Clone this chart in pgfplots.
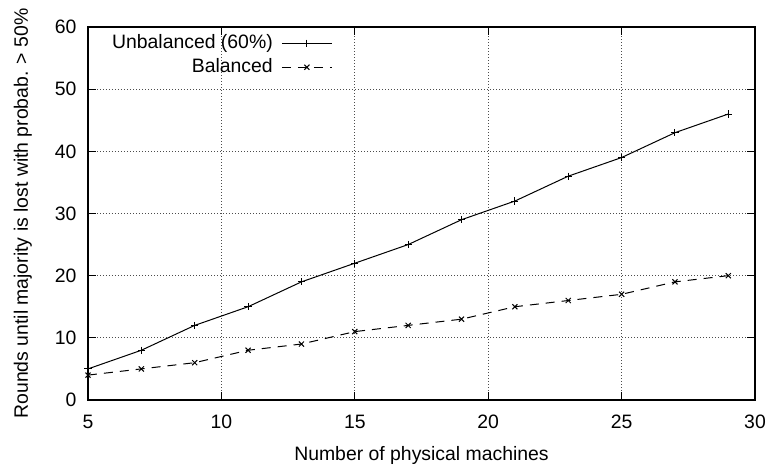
\documentclass[border=0pt]{standalone}
\usepackage{fontspec}
\setmainfont{Liberation Sans}
\usepackage{pgfplots}
\pgfplotsset{compat=1.18}
\begin{document}
\fontsize{9.7}{11.6}\selectfont
\begin{tikzpicture}
\begin{axis}[
  scale only axis,
  width=333.5pt, height=186.5pt,
  xmin=5, xmax=30, ymin=0, ymax=60,
  xtick={5,10,...,30}, ytick={0,10,...,60},
  /pgf/number format/assume math mode=true,
  tick align=inside,
  major tick length=4pt,
  axis line style={line width=0.65pt},
  tick style={line width=0.5pt, black},
  grid=major,
  major grid style={dash pattern=on 0.5pt off 1pt, line width=0.5pt, gray!60!black},
  ticklabel style={font=\fontsize{9.7}{11.6}\selectfont},
  xticklabel style={yshift=-4.3pt},
  yticklabel style={xshift=-2.3pt},
  xlabel={Number of physical machines},
  ylabel={Rounds until majority is lost with probab. > 50\%},
  xlabel style={at={(axis description cs:0.5,-0.1635)}, anchor=base, inner sep=0pt, font=\fontsize{9.7}{11.6}\selectfont},
  ylabel style={at={(axis description cs:-0.09,0.5)}, anchor=base, inner sep=0pt, font=\fontsize{9.7}{11.6}\selectfont},
  legend plot pos=right,
  legend cell align=right,
  legend style={draw=none, fill=none, at={(axis description cs:0.367,0.991)}, anchor=north east,
    font=\fontsize{9.7}{11.6}\selectfont, row sep=-0.5pt, inner sep=0pt,
    /tikz/every odd column/.append style={column sep=2.3pt}},
  legend image code/.code={\draw[mark repeat=2,mark phase=2,#1] plot coordinates {(0pt,0pt)(12.5pt,0pt)(25pt,0pt)};},
]
\addplot[black, line width=0.5pt, mark=+, mark size=1.8pt, mark options={solid}] coordinates {
(5,5)(7,8)(9,12)(11,15)(13,19)(15,22)(17,25)(19,29)(21,32)(23,36)(25,39)(27,43)(29,46)};
\addlegendentry{Unbalanced (60\%)}
\addplot[black, line width=0.5pt, dash pattern=on 4.5pt off 3.5pt, mark=x, mark size=1.8pt, mark options={solid}] coordinates {
(5,4)(7,5)(9,6)(11,8)(13,9)(15,11)(17,12)(19,13)(21,15)(23,16)(25,17)(27,19)(29,20)};
\addlegendentry{Balanced}
\end{axis}
\pgfresetboundingbox
\path[use as bounding box] ([xshift=-44pt,yshift=-33.5pt]current axis.south west) rectangle ([xshift=7.5pt,yshift=13.5pt]current axis.north east);
\end{tikzpicture}
\end{document}
